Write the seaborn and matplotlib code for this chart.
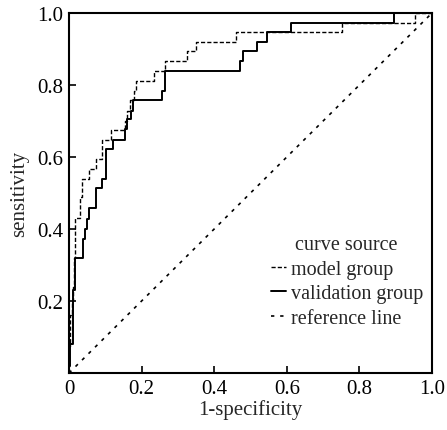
import matplotlib
matplotlib.use("Agg")
import matplotlib.pyplot as plt
import seaborn as sns
import pandas as pd

# ROC vertices
model_fpr = [0, 0, 0.003, 0.003, 0.008, 0.008, 0.012, 0.012, 0.014, 0.014, 0.017, 0.017,
             0.03, 0.03, 0.036, 0.036, 0.055, 0.055, 0.074, 0.074, 0.092, 0.092, 0.115, 0.115,
             0.154, 0.154, 0.160, 0.160, 0.168, 0.168, 0.179, 0.179, 0.185, 0.185, 0.234, 0.234,
             0.265, 0.265, 0.325, 0.325, 0.35, 0.35, 0.46, 0.46, 0.752, 0.752, 0.954, 0.954, 1.0]
model_tpr = [0, 0.075, 0.075, 0.16, 0.16, 0.20, 0.20, 0.24, 0.24, 0.32, 0.32, 0.43,
             0.43, 0.49, 0.49, 0.54, 0.54, 0.567, 0.567, 0.594, 0.594, 0.648, 0.648, 0.676,
             0.676, 0.70, 0.70, 0.729, 0.729, 0.757, 0.757, 0.784, 0.784, 0.812, 0.812, 0.840,
             0.840, 0.866, 0.866, 0.894, 0.894, 0.92, 0.92, 0.947, 0.947, 0.973, 0.973, 1.0, 1.0]

valid_fpr = [0, 0, 0.003, 0.003, 0.01, 0.01, 0.012, 0.012, 0.017, 0.017, 0.038, 0.038,
             0.044, 0.044, 0.049, 0.049, 0.055, 0.055, 0.075, 0.075, 0.092, 0.092, 0.103, 0.103,
             0.122, 0.122, 0.154, 0.154, 0.161, 0.161, 0.170, 0.170, 0.177, 0.177, 0.256, 0.256,
             0.265, 0.265, 0.472, 0.472, 0.479, 0.479, 0.519, 0.519, 0.545, 0.545, 0.612, 0.612,
             0.894, 0.894, 1.0]
valid_tpr = [0, 0.02, 0.02, 0.08, 0.08, 0.16, 0.16, 0.23, 0.23, 0.319, 0.319, 0.372,
             0.372, 0.40, 0.40, 0.428, 0.428, 0.457, 0.457, 0.513, 0.513, 0.539, 0.539, 0.622,
             0.622, 0.648, 0.648, 0.678, 0.678, 0.706, 0.706, 0.729, 0.729, 0.757, 0.757, 0.784,
             0.784, 0.840, 0.840, 0.867, 0.867, 0.894, 0.894, 0.92, 0.92, 0.947, 0.947, 0.973,
             0.973, 1.0, 1.0]

ref_x = [0, 1]
ref_y = [0, 1]

series_names = ["model group", "validation group", "reference line"]
x_ticks = [0, 0.2, 0.4, 0.6, 0.8, 1.0]
x_tick_labels = ["0", "0.2", "0.4", "0.6", "0.8", "1.0"]
y_ticks = [0.2, 0.4, 0.6, 0.8, 1.0]
y_tick_labels = ["0.2", "0.4", "0.6", "0.8", "1.0"]

sns.set_style("white")
plt.rcParams['font.family'] = ['Liberation Serif', 'DejaVu Serif']

fig = plt.figure(figsize=(4.47, 4.31), dpi=100)
ax = fig.add_axes([69 / 447, 57 / 431, 363 / 447, 360 / 431])

df_model = pd.DataFrame({"fpr": model_fpr, "tpr": model_tpr})
df_valid = pd.DataFrame({"fpr": valid_fpr, "tpr": valid_tpr})
df_ref = pd.DataFrame({"fpr": ref_x, "tpr": ref_y})

sns.lineplot(data=df_model, x="fpr", y="tpr", sort=False, estimator=None, ax=ax,
             color="black", linewidth=1.0, linestyle=(0, (3, 1.5)), label=series_names[0])
sns.lineplot(data=df_valid, x="fpr", y="tpr", sort=False, estimator=None, ax=ax,
             color="black", linewidth=1.4, linestyle="-", label=series_names[1])
sns.lineplot(data=df_ref, x="fpr", y="tpr", sort=False, estimator=None, ax=ax,
             color="black", linewidth=1.2, linestyle=(0, (2, 3.5)), label=series_names[2])

ax.set_xlim(0, 1)
ax.set_ylim(0, 1)
ax.set_xticks(x_ticks)
ax.set_xticklabels(x_tick_labels)
ax.set_yticks(y_ticks)
ax.set_yticklabels(y_tick_labels)
ax.tick_params(direction="in", length=5, width=1.2, labelsize=15, colors="black",
               left=True, bottom=True, pad=4)
ax.set_xlabel("1-specificity", fontsize=15, labelpad=1)
ax.set_ylabel("sensitivity", fontsize=15, labelpad=6)

for s in ax.spines.values():
    s.set_visible(True)
    s.set_color("black")
    s.set_linewidth(1.5)

leg = ax.legend(title="curve source", loc="lower right", bbox_to_anchor=(0.975, 0.125),
                frameon=False, fontsize=14.5, title_fontsize=14.5, handlelength=0.75,
                handletextpad=0.25, labelspacing=0.27, borderpad=0, borderaxespad=0)

fig.savefig("out.png", dpi=100)
